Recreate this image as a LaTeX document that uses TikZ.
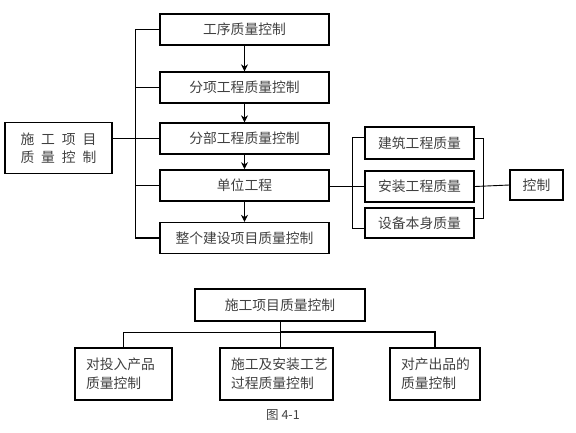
\documentclass[tikz,border=0pt]{standalone}
\usepackage{fontspec}
\newfontfamily\cjk{Noto Sans CJK SC}
\usetikzlibrary{arrows.meta,positioning}

\begin{document}
\begin{tikzpicture}[
  x=1pt,y=-1pt,
  >={Stealth[length=7pt,width=7pt]},
  font=\cjk\fontsize{13.8}{19}\selectfont,
  box/.style={draw=black, line width=1.3pt, text=black!75, minimum height=31pt, align=center, inner sep=2pt},
  kid/.style={draw=black, line width=1.3pt, text=black!75, minimum height=52pt, align=left, inner xsep=11pt},
  link/.style={draw=black, line width=0.9pt},
  bold/.style={draw=black, line width=1.6pt}
]
\useasboundingbox (0,0) rectangle (576,432);

% ================= Upper chart =================
\node[box, minimum width=107pt, minimum height=51pt, font=\cjk\fontsize{13.8}{18}\selectfont] (proj) at (58.5,148)
  {施\enspace 工\enspace 项\enspace 目\\质\enspace 量\enspace 控\enspace 制};

\node[box, minimum width=169pt] (proc)  at (244.5,29.5) {工序质量控制};
\node[box, minimum width=169pt] (item)  at (244.5,87.5) {分项工程质量控制};
\node[box, minimum width=169pt] (part)  at (244.5,138.5) {分部工程质量控制};
\node[box, minimum width=169pt, line width=1.6pt] (unit) at (244.5,185.5) {单位工程};
\node[box, minimum width=169pt] (whole) at (244.5,238) {整个建设项目质量控制};

\node[box, minimum width=109pt, minimum height=32pt] (build)   at (419.5,143) {建筑工程质量};
\node[box, minimum width=109pt, line width=1.6pt] (install) at (419.5,186.5) {安装工程质量};
\node[box, minimum width=109pt, minimum height=30pt, line width=1.6pt] (equip) at (419.5,223) {设备本身质量};
\node[box, minimum width=53pt, minimum height=30pt] (ctrl) at (536.5,185) {控制};

% bracket on the left of the chain
\draw[bold] (proc.west) -- ++(-24,0) |- (whole.west);
\draw[link] (item.west) -- ++(-24,0);
\draw[link] (unit.west) -- ++(-24,0);
\draw[link] (proj.east |- part.west) -- (part.west);

% chain arrows
\draw[link,->] (proc) -- (item);
\draw[link,->] (item) -- (part);
\draw[link,->] (part) -- (unit);
\draw[link,->] (unit) -- (whole);

% sub items of the unit
\draw[link] (unit.east |- install.west) -- (install.west);
\draw[link] ([yshift=6pt]build.west) -- ++(-12,0) |- ([yshift=-5pt]equip.west);
\draw[link] ([yshift=5pt]build.east) -- ++(9,0) |- ([yshift=5pt]equip.east);
\draw[link] (install.east) -- (ctrl.west);

% ================= Lower chart =================
\node[box, minimum width=170pt, minimum height=32pt, line width=1.8pt] (root) at (280,305) {施工项目质量控制};

\node[kid, text width=75pt]  (input)  at (123.5,374) {对投入产品\\质量控制};
\node[kid, text width=91pt]  (craft)  at (276.5,374) {施工及安装工艺\\过程质量控制};
\node[kid, text width=68pt]  (output) at (435,374)   {对产出品的\\质量控制};

\coordinate (bus) at (280,332);
\draw[link] (root.south) -- (root.south |- craft.north);
\draw[link] (input.north) -- (input.north |- bus) -- (bus);
\draw[bold] (bus) -| (output.north);

\node[text=black!75, font=\cjk\fontsize{12.5}{14}\selectfont] (caption) at (283,415) {图 4-1};

\end{tikzpicture}
\end{document}
